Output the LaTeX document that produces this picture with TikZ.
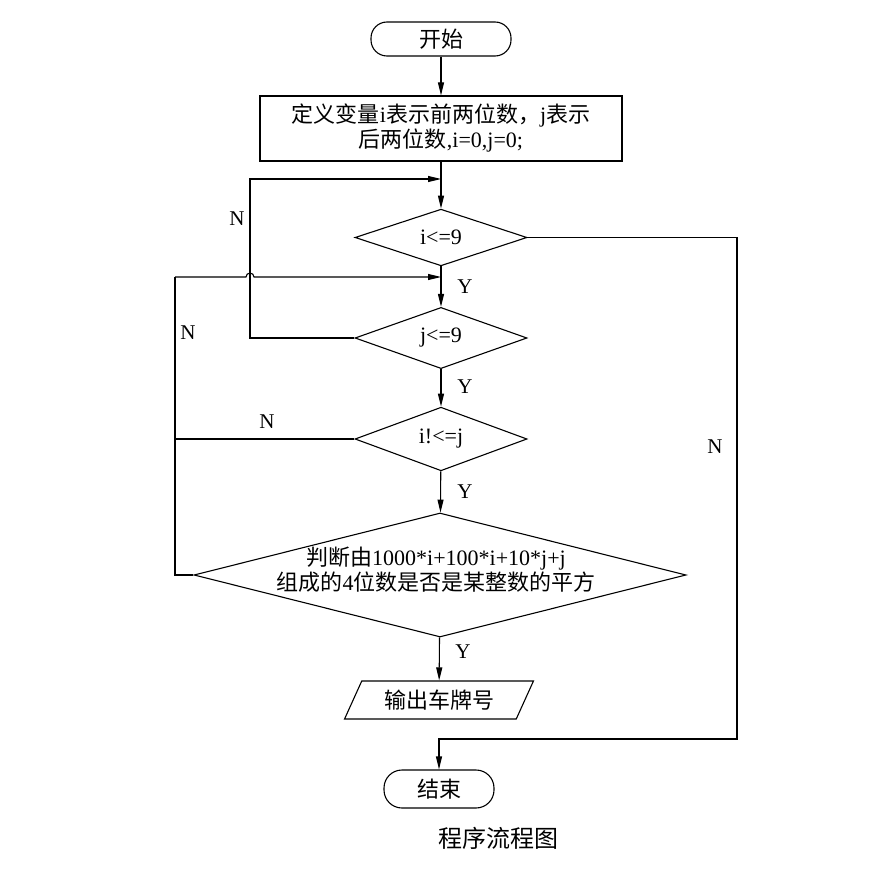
\documentclass[tikz,border=0pt]{standalone}
\usepackage{fontspec}
\setmainfont{Liberation Serif}
\newfontfamily\cjk{Noto Sans CJK SC}
\usetikzlibrary{arrows.meta,shapes.geometric}
\begin{document}
\begin{tikzpicture}[x=1pt,y=-1pt,line width=1.1pt,
  font=\fontsize{22}{25}\selectfont,
  arr/.style={-{Triangle[length=13pt,width=6pt]}},
  term/.style={draw,rectangle,rounded corners=16pt,minimum height=34pt,inner sep=0pt},
  proc/.style={draw,rectangle,minimum width=362pt,minimum height=65pt,align=center,inner sep=0pt},
  dec/.style={draw,diamond,inner sep=0pt},
  io/.style={draw,trapezium,trapezium left angle=59,trapezium right angle=121,trapezium stretches=true,minimum width=189pt,minimum height=38pt,inner sep=0pt},
  lbl/.style={inner sep=0pt,font=\fontsize{21}{25}\selectfont}]
\useasboundingbox (0,0) rectangle (884,872);

\node[term,minimum width=140pt] (start) at (441,39) {\cjk 开始};
\node[proc] (init) at (441,128.5) {{\cjk 定义变量}i{\cjk 表示前两位数，}j{\cjk 表示}\\{\cjk 后两位数},i=0,j=0;};
\node[dec,minimum width=172pt,minimum height=51pt] (d1) at (441,237.5) {i<=9};
\node[dec,minimum width=172pt,minimum height=51pt] (d2) at (441,338) {j<=9};
\node[dec,minimum width=172pt,minimum height=52pt] (d3) at (441,439) {i!<=j};
\node[dec,minimum width=492pt,minimum height=124pt] (d4) at (440,575) {};
\node[align=center,inner sep=0pt] (d4t) at (436,570) {{\cjk 判断由}1000*i+100*i+10*j+j\\{\cjk 组成的}4{\cjk 位数是否是某整数的平方}};
\node[io] (out) at (439,700) {\cjk 输出车牌号};
\node[term,minimum width=110pt,minimum height=38pt,rounded corners=18pt] (end) at (439,789) {\cjk 结束};
\node[inner sep=0pt,font=\fontsize{24}{28}\selectfont] (cap) at (498,838) {\cjk 程序流程图};

\coordinate (m1) at (441,179);
\coordinate (l1) at (250,179);
\coordinate (m2) at (441,277);
\coordinate (l2) at (175,277);
\coordinate (r1) at (737,739);

\draw[arr] (start) -- (init);
\draw[arr] (init) -- (d1);
\draw[arr] (d1) -- (d2);
\draw[arr] (d2) -- (d3);
\draw[arr] (d3) -- (d4);
\draw[arr] (d4) -- (out);

% N loop from j<=9 back to i<=9
\draw[arr] (d2.west) -| (l1) -- (m1);
% N loops back to j<=9
\draw (d4.west) -| (l2);
\draw (d3.west) -- (d3.west -| l2);
\draw[arr] (l2) -- (246,277) arc[start angle=180,end angle=0,radius=4pt] -- (m2);
% N exit from i<=9 to end
\draw[arr] (d1.east) -| (r1) -- (r1 -| end) -- (end.north);

\node[lbl] (n1) at (237,219) {N};
\node[lbl] (n2) at (188,333) {N};
\node[lbl] (n3) at (267,422) {N};
\node[lbl] (n4) at (715,447) {N};
\node[lbl] (y1) at (465,287) {Y};
\node[lbl] (y2) at (465,387) {Y};
\node[lbl] (y3) at (465,492) {Y};
\node[lbl] (y4) at (463,652) {Y};
\end{tikzpicture}
\end{document}
